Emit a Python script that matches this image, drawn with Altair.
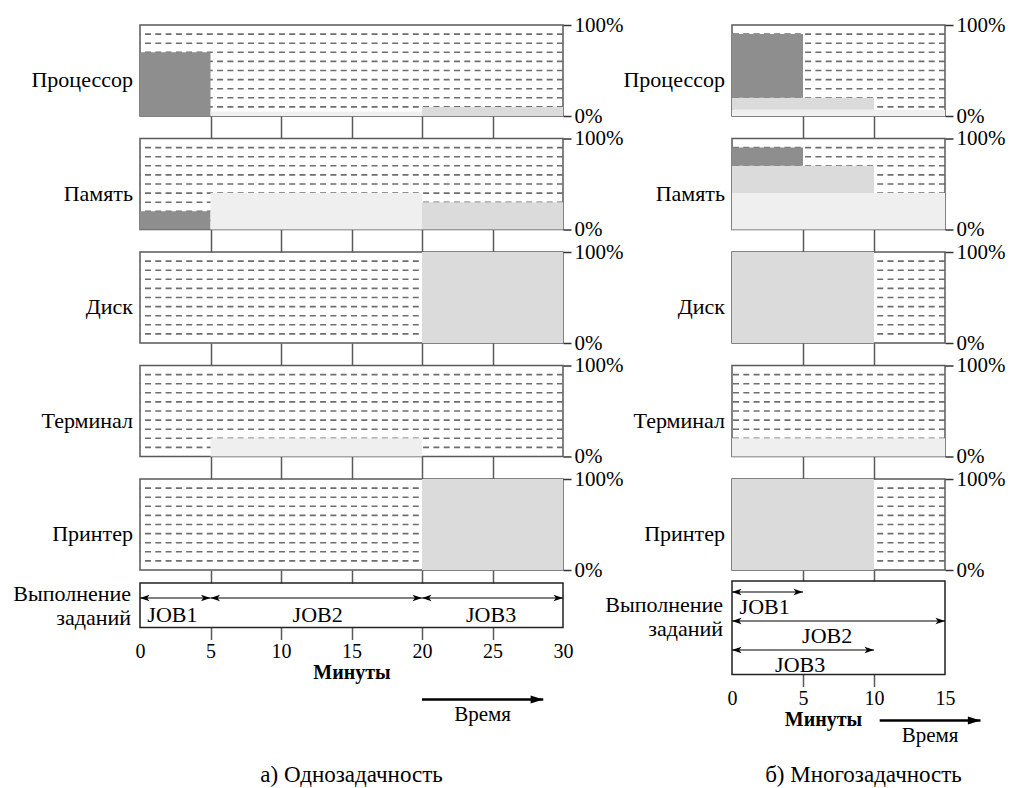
import altair as alt
import pandas as pd

RESOURCES = ["Процессор", "Память", "Диск", "Терминал", "Принтер"]
JOBS = ["JOB1", "JOB2", "JOB3"]

# а) Однозадачность: job intervals (minutes) and usage (%) per resource, per job
single_start = [0, 5, 20]
single_end = [5, 20, 30]
single_cpu = [70, 5, 10]
single_mem = [20, 40, 30]
single_disk = [0, 0, 100]
single_term = [0, 20, 0]
single_prn = [0, 0, 100]
single_label_x = [2.3, 12.6, 24.9]
single_lane = [0, 0, 0]

# б) Многозадачность
multi_start = [0, 0, 0]
multi_end = [5, 15, 10]
multi_cpu = [70, 7, 13]
multi_mem = [20, 40, 30]
multi_disk = [0, 0, 100]
multi_term = [0, 20, 0]
multi_prn = [0, 0, 100]
multi_label_x = [2.3, 6.7, 4.8]
multi_lane = [0, 1, 2]
stack_order = ["JOB2", "JOB3", "JOB1"]

dash_levels = [10, 20, 30, 40, 50, 60, 70, 80, 90]
percent_ticks = [0, 100]
single_minutes = [0, 5, 10, 15, 20, 25, 30]
multi_minutes = [0, 5, 10, 15]
single_connectors = [5, 10, 15, 20, 25]
multi_connectors = [5, 10]
single_time_arrow = [20, 28.6]
multi_time_arrow = [10.4, 17.5]

# ---- styling / layout constants ----
FONT = "Liberation Serif"
COLORS = ["#8e8e8e", "#efefef", "#dbdbdb"]
FRAME = "#5a5a5a"
DASH = "#6e6e6e"
PANEL_H = 91
GAP = 22.5
COL_GAP = 169
LEFT_W = 423
RIGHT_W = 213
LANE_PX = 29
LEFT_HEAD = "M0,0 L2,-0.7 L1.5,0 L2,0.7 Z"
RIGHT_HEAD = "M0,0 L-2,-0.7 L-1.5,0 L-2,0.7 Z"
BIG_HEAD = "M0,0 L-2,-0.65 L-2,0.65 Z"


def usage_frame(start, end, usages, stacked):
    rows = []
    order = stack_order if stacked else JOBS
    for res, vals in zip(RESOURCES, usages):
        base = 0
        for job in order:
            i = JOBS.index(job)
            v = vals[i]
            if v <= 0:
                continue
            y0 = base if stacked else 0
            rows.append(dict(resource=res, job=job, start=start[i], end=end[i], y0=y0, y1=y0 + v))
            if stacked:
                base += v
    return pd.DataFrame(rows)


dash_df = pd.DataFrame({"level": dash_levels})


def panel(df, name, xmax, width, connectors, tick_len):
    xs = alt.Scale(domain=[0, xmax], nice=False, zero=False)
    ys = alt.Scale(domain=[0, 100], nice=False)
    yaxis = alt.Axis(orient="right", values=percent_ticks, labelExpr="datum.value + '%'",
                     title=None, grid=False, domain=False, tickSize=8, tickColor="#333333",
                     tickWidth=1.5, labelPadding=3, labelFontSize=21)
    xaxis = alt.Axis(values=connectors, labels=False, title=None, grid=False, domain=False,
                     ticks=True, tickSize=tick_len, tickColor=FRAME, tickWidth=1.5)
    dashes = alt.Chart(dash_df).mark_rule(color=DASH, strokeWidth=1.6, strokeDash=[6, 4.3]).encode(
        y=alt.Y("level:Q", scale=ys, axis=yaxis))
    fills = alt.Chart(df[df.resource == name]).mark_rect().encode(
        x=alt.X("start:Q", scale=xs, axis=xaxis), x2="end:Q",
        y=alt.Y("y0:Q", scale=ys, axis=yaxis), y2="y1:Q",
        color=alt.Color("job:N", scale=alt.Scale(domain=JOBS, range=COLORS), legend=None))
    label = alt.Chart(pd.DataFrame({"name": [name]})).mark_text(
        align="right", baseline="middle", font=FONT, fontSize=22, color="black", dx=-7
    ).encode(text="name:N", x=alt.value(0), y=alt.value(55))
    return alt.layer(dashes, fills, label).properties(width=width, height=PANEL_H)


def job_box(start, end, label_x, lanes, xmax, width, frame_top, frame_bottom, lane_top, minutes,
            label_dy, arrow, arrow_y, word_y, exec_y, caption, caption_dx, caption_y, title_x=None):
    # the box frame starts slightly above this cell (closer to the panels than the panel gap)
    df = pd.DataFrame({"job": JOBS, "start": start, "end": end, "lx": label_x, "lane": lanes})
    xs = alt.Scale(domain=[0, xmax], nice=False, zero=False)
    lane0_px = frame_top + lane_top
    ys = alt.Scale(domain=[-lane0_px / LANE_PX, (frame_bottom - lane0_px) / LANE_PX],
                   reverse=True, nice=False, zero=False)
    extra = {"titleX": title_x} if title_x is not None else {}
    xaxis = alt.Axis(values=minutes, title="Минуты", grid=False, domain=False, tickSize=12,
                     tickColor=FRAME, tickWidth=1.5,
                     tickOpacity={"condition": {"test": f"datum.value == 0 || datum.value == {xmax}",
                                                "value": 0}, "value": 1},
                     labelFlush=False, labelFontSize=20, labelPadding=2,
                     titleFontSize=20, titleFontWeight="bold", titlePadding=1, **extra)
    base = alt.Chart(df)
    frame = alt.Chart(pd.DataFrame({"f": [0]})).mark_rect(
        fill="transparent", stroke="#222222", strokeWidth=1.5
    ).encode(x=alt.value(0), x2=alt.value(width), y=alt.value(frame_top), y2=alt.value(frame_bottom))
    arrows = base.mark_rule(color="black", strokeWidth=1.2).encode(
        x=alt.X("start:Q", scale=xs, axis=xaxis), x2="end:Q",
        y=alt.Y("lane:Q", scale=ys, axis=None))
    lheads = base.mark_point(shape=LEFT_HEAD, filled=True, color="black", opacity=1, size=90).encode(
        x=alt.X("start:Q", scale=xs, axis=xaxis), y=alt.Y("lane:Q", scale=ys, axis=None))
    rheads = base.mark_point(shape=RIGHT_HEAD, filled=True, color="black", opacity=1, size=90).encode(
        x=alt.X("end:Q", scale=xs, axis=xaxis), y=alt.Y("lane:Q", scale=ys, axis=None))
    labels = base.mark_text(font=FONT, fontSize=22, baseline="middle", color="black", dy=label_dy).encode(
        x=alt.X("lx:Q", scale=xs, axis=xaxis), y=alt.Y("lane:Q", scale=ys, axis=None), text="job:N")

    tdf = pd.DataFrame({"a": [arrow[0]], "b": [arrow[1]], "m": [(arrow[0] + arrow[1]) / 2],
                        "w": ["Время"], "e1": ["Выполнение"], "e2": ["заданий"], "cap": [caption]})
    tb = alt.Chart(tdf)
    trule = tb.mark_rule(color="black", strokeWidth=2.6).encode(
        x=alt.X("a:Q", scale=xs, axis=xaxis), x2="b:Q", y=alt.value(arrow_y))
    thead = tb.mark_point(shape=BIG_HEAD, filled=True, color="black", opacity=1, size=160).encode(
        x=alt.X("b:Q", scale=xs, axis=xaxis), y=alt.value(arrow_y))
    tword = tb.mark_text(font=FONT, fontSize=21, baseline="middle", color="black").encode(
        x=alt.X("m:Q", scale=xs, axis=xaxis), y=alt.value(word_y), text="w:N")
    ex1 = tb.mark_text(font=FONT, fontSize=22, align="right", baseline="middle", color="black", dx=-9).encode(
        x=alt.value(0), y=alt.value(exec_y[0]), text="e1:N")
    ex2 = tb.mark_text(font=FONT, fontSize=22, align="right", baseline="middle", color="black", dx=-9).encode(
        x=alt.value(0), y=alt.value(exec_y[1]), text="e2:N")
    cap = tb.mark_text(font=FONT, fontSize=23, align="center", baseline="middle", color="black").encode(
        x=alt.value(width / 2 + caption_dx), y=alt.value(caption_y), text="cap:N")
    return alt.layer(frame, arrows, lheads, rheads, labels, trule, thead, tword, ex1, ex2, cap).properties(
        width=width, height=frame_bottom, view=alt.ViewBackground(stroke=None))


single_df = usage_frame(single_start, single_end,
                        [single_cpu, single_mem, single_disk, single_term, single_prn], False)
multi_df = usage_frame(multi_start, multi_end,
                       [multi_cpu, multi_mem, multi_disk, multi_term, multi_prn], True)

cells = []
for k, r in enumerate(RESOURCES):
    cells.append(panel(single_df, r, 30, LEFT_W, single_connectors, GAP if k < 4 else 13))
    cells.append(panel(multi_df, r, 15, RIGHT_W, multi_connectors, GAP if k < 4 else 11))

# box cells start GAP below the last panel; frames reach up to 13 / 11 px below it
cells.append(job_box(single_start, single_end, single_label_x, single_lane, 30, LEFT_W,
                     13 - GAP, 35, 15, single_minutes, 17, single_time_arrow, 107, 122, [1, 25],
                     "а) Однозадачность", 0, 182))
cells.append(job_box(multi_start, multi_end, multi_label_x, multi_lane, 15, RIGHT_W,
                     11 - GAP, 82, 11, multi_minutes, 15, multi_time_arrow, 128, 143, [12, 36],
                     "б) Многозадачность", 25, 182, title_x=91))

chart = alt.concat(*cells, columns=2, spacing={"row": GAP, "column": COL_GAP}, bounds="flush").properties(
    padding={"left": 5, "top": 5, "right": 5, "bottom": 0}
).configure_view(stroke=FRAME, strokeWidth=1.5).configure_axis(
    labelFont=FONT, titleFont=FONT, labelColor="black", titleColor="black"
)

chart.save("out.html", embed_options={"renderer": "svg", "actions": False})
